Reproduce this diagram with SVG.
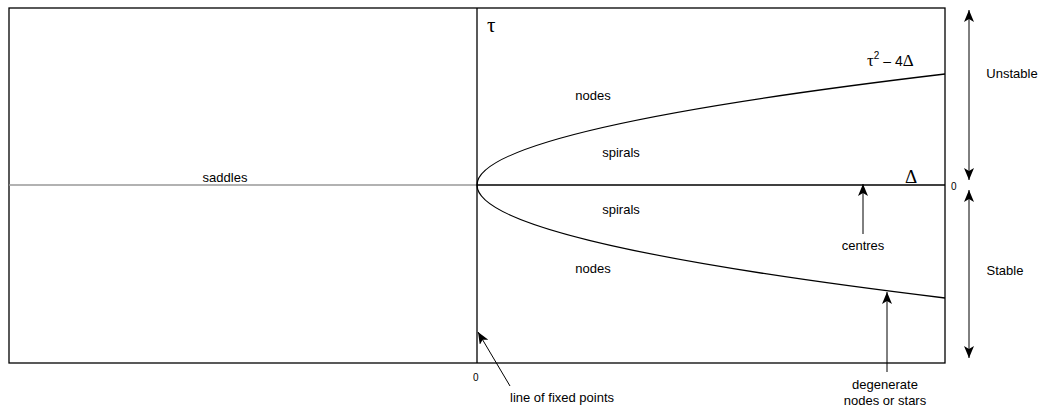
<svg xmlns="http://www.w3.org/2000/svg" width="1050" height="407" viewBox="0 0 1050 407">
<style>
text{font-family:"Liberation Sans",Arial,sans-serif;font-size:13px;fill:#000}
.sym{font-family:"Liberation Serif","Times New Roman",serif;font-size:18px}
.ln{stroke:#000;stroke-width:1.3;fill:none}
.ar{stroke:#000;stroke-width:1;fill:none;marker-end:url(#ah)}
.ar2{stroke:#000;stroke-width:1;fill:none;marker-end:url(#ah);marker-start:url(#ahs)}
</style>
<defs>
<marker id="ah" viewBox="0 0 12 10" refX="12" refY="5" markerWidth="12" markerHeight="10" markerUnits="userSpaceOnUse" orient="auto">
<path d="M0,0 L12,5 L0,10 L3,5 Z" fill="#000"/>
</marker>
<marker id="ahs" viewBox="0 0 12 10" refX="0" refY="5" markerWidth="12" markerHeight="10" markerUnits="userSpaceOnUse" orient="auto">
<path d="M12,0 L0,5 L12,10 L9,5 Z" fill="#000"/>
</marker>
</defs>
<rect width="1050" height="407" fill="#fff"/>
<g id="frame">
<rect x="9" y="8" width="936" height="355" class="ln"/>
</g>
<g id="axes">
<line x1="9" y1="185" x2="477" y2="185" stroke="#999" stroke-width="1.3"/>
<line x1="477" y1="185" x2="945" y2="185" class="ln"/>
<line x1="477" y1="8" x2="477" y2="363" class="ln"/>
<text x="487" y="32" class="sym" style="font-size:21px">τ</text>
<text x="905" y="183" class="sym" style="font-size:19px">Δ</text>
<text x="951" y="190" style="font-size:10px">0</text>
<text x="473" y="381" style="font-size:10px">0</text>
</g>
<g id="parabola">
<path d="M945,74 Q477,129.5 477,185 Q477,241.5 945,298" class="ln"/>
<text x="867" y="66"><tspan class="sym" style="font-size:17px">τ</tspan><tspan dy="-7" style="font-size:10px">2</tspan><tspan dy="7" style="font-size:14px"> – 4</tspan><tspan class="sym" style="font-size:17px">Δ</tspan></text>
</g>
<g id="regions">
<text x="225" y="182" text-anchor="middle">saddles</text>
<text x="593" y="100" text-anchor="middle">nodes</text>
<text x="621" y="157" text-anchor="middle">spirals</text>
<text x="621" y="214" text-anchor="middle">spirals</text>
<text x="593" y="273" text-anchor="middle">nodes</text>
<text x="863" y="250" text-anchor="middle">centres</text>
<text x="885" y="389" text-anchor="middle">degenerate</text>
<text x="885" y="405" text-anchor="middle">nodes or stars</text>
<text x="510" y="402">line of fixed points</text>
<text x="1012" y="78" text-anchor="middle">Unstable</text>
<text x="1005" y="275" text-anchor="middle">Stable</text>
</g>
<g id="connectors">
<line x1="863" y1="234" x2="863" y2="184" class="ar"/>
<line x1="887" y1="372" x2="887" y2="292" class="ar"/>
<line x1="510" y1="386" x2="478" y2="332" class="ar"/>
<line x1="969" y1="10" x2="969" y2="180" class="ar2"/>
<line x1="969" y1="190" x2="969" y2="358" class="ar2"/>
</g>
</svg>
